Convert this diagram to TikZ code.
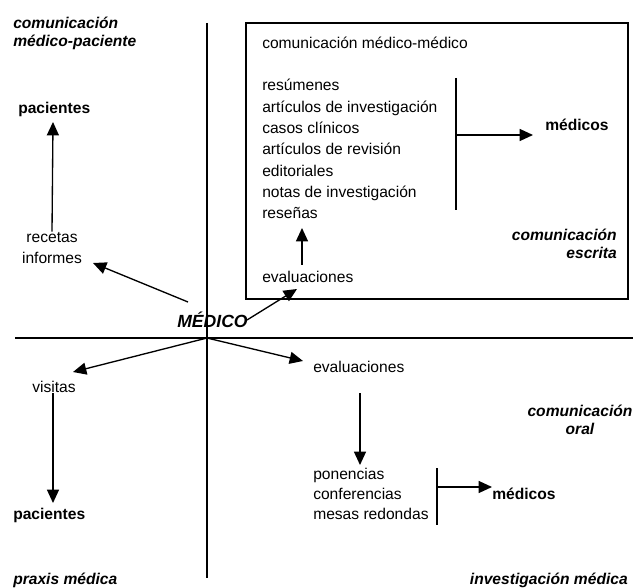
\documentclass[tikz,border=0pt]{standalone}
\usepackage{fontspec}
\setmainfont{Liberation Sans}
\usepackage{tikz}
\usetikzlibrary{arrows.meta, positioning}

\begin{document}
\begin{tikzpicture}[x=0.75pt, y=-0.75pt,
    lbl/.style={inner sep=0pt, font=\fontsize{11.7}{15.5}\selectfont},
    tag/.style={inner sep=0pt, font=\fontsize{11.7}{13.5}\selectfont\bfseries\itshape},
    dest/.style={inner sep=0pt, font=\fontsize{11.7}{14}\selectfont\bfseries},
    arr/.style={-{Triangle[length=10pt, width=9pt]}, line width=1pt},
    axis/.style={line width=1.3pt}]
    \useasboundingbox (0,0) rectangle (636,588);

    % ejes
    \coordinate (o) at (207,338);
    \draw[axis] (207,23) -- (207,578);
    \draw[axis] (15,338) -- (633,338);

    % cuadrante superior derecho
    \draw[line width=1.2pt] (246,23) rectangle (628,299);
    \node[lbl, anchor=base west] (cmm) at (262,49) {comunicación médico-médico};
    \node[lbl, anchor=base west, align=left, font=\fontsize{11.7}{16}\selectfont] (escritos) at (262,219)
        {resúmenes\\artículos de investigación\\casos clínicos\\artículos de revisión\\editoriales\\notas de investigación\\reseñas};
    \node[dest, anchor=base west] (medicos1) at (545,131) {médicos};
    \node[tag, anchor=base east, align=right] (escrita) at (617,259) {comunicación\\escrita};
    \node[lbl, anchor=base west] (eval1) at (262,282) {evaluaciones};
    \coordinate (bar1a) at (456,78);
    \coordinate (bar1b) at (456,210);
    \coordinate (bar1m) at (456,135);
    \draw[line width=1pt] (bar1a) -- (bar1b);
    \draw[arr] (bar1m) -- (533,135);

    % cuadrante superior izquierdo
    \node[tag, anchor=base west, align=left] (cmp) at (13,47) {comunicación\\médico-paciente};
    \node[dest, anchor=base west] (pac1) at (18,114) {pacientes};
    \node[lbl, anchor=base, align=center, font=\fontsize{11.7}{15.75}\selectfont] (recetas) at (52,263) {recetas\\informes};
    \node[tag, anchor=base west, font=\fontsize{13.2}{15}\selectfont\bfseries\itshape] (medico) at (177,328) {MÉDICO};

    % cuadrante inferior izquierdo
    \node[lbl, anchor=base west] (visitas) at (32,392) {visitas};
    \node[dest, anchor=base west] (pac2) at (13,519) {pacientes};
    \node[tag, anchor=base west] (praxis) at (13,584) {praxis médica};

    % cuadrante inferior derecho
    \node[lbl, anchor=base west] (eval2) at (313,372) {evaluaciones};
    \node[lbl, anchor=base west, align=left, font=\fontsize{11.7}{15}\selectfont] (orales) at (313,519)
        {ponencias\\conferencias\\mesas redondas};
    \node[dest, anchor=base west] (medicos2) at (492,499) {médicos};
    \node[tag, anchor=base, align=center] (oral) at (580,434) {comunicación\\oral};
    \node[tag, anchor=base east] (invest) at (628,584) {investigación médica};
    \coordinate (bar2a) at (437,468);
    \coordinate (bar2b) at (437,525);
    \coordinate (bar2m) at (437,487);
    \draw[line width=1pt] (bar2a) -- (bar2b);

    % flechas
    \coordinate (mnw) at (188,302);
    \coordinate (rtip) at (93,263);
    \coordinate (meast) at (247,320);
    \coordinate (etip) at (297,289);
    \coordinate (vtip) at (73,372);
    \coordinate (e2tip) at (303,361);
    \draw[arr] (mnw) -- (rtip);
    \draw[arr] (meast) -- (etip);
    \draw[arr] (o) -- (vtip);
    \draw[arr] (o) -- (e2tip);
    \draw[arr] (302,265) -- (302,228);
    \draw[arr] (recetas.north) -- (53,122);
    \draw[arr] (53,393) -- (53,503);
    \draw[arr] (360,393) -- (360,465);
    \draw[arr] (bar2m) -- (492,487);
\end{tikzpicture}
\end{document}
